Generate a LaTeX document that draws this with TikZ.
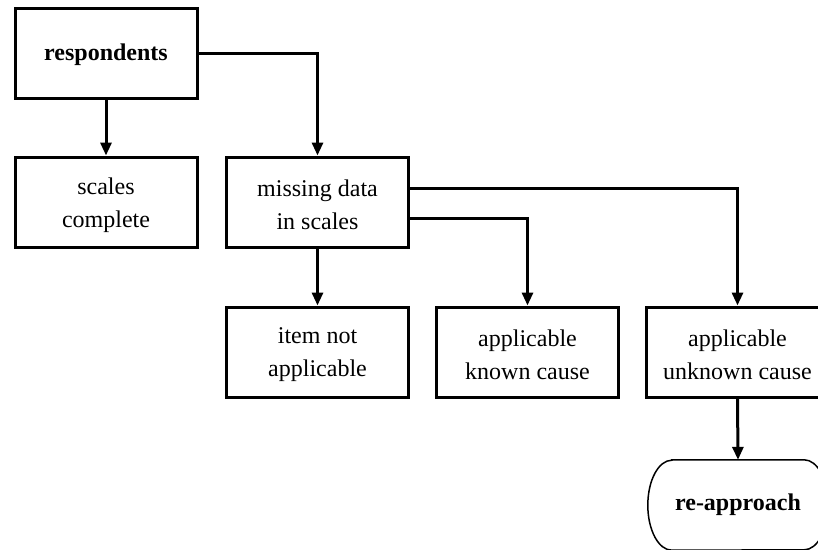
\documentclass[tikz,border=0pt]{standalone}
\usepackage{fontspec}
\setmainfont{Liberation Serif}
\usetikzlibrary{arrows.meta}
\begin{document}
\begin{tikzpicture}[x=1pt,y=1pt,
  box/.style={draw,line width=3pt,minimum width=182pt,minimum height=90pt,inner sep=0pt},
  plainbox/.style={minimum width=180pt,minimum height=90pt,inner sep=0pt,align=center,font=\fontsize{24}{34}\selectfont\bfseries},
  txt/.style={inner sep=0pt,align=center,font=\fontsize{24}{33}\selectfont},
  arr/.style={line width=3pt,-{Triangle[length=13pt,width=11pt]}},
  outline/.style={draw,line width=1.5pt}]
\useasboundingbox (0,0) rectangle (818,-549);
\node[box] (resp) at (106,-53) {};
\node[txt,font=\fontsize{24}{33}\selectfont\bfseries] (respT) at ([yshift=-2pt]resp.center) {respondents};
\node[box] (scal) at (106,-202) {};
\node[txt] (scalT) at ([yshift=-3pt]scal.center) {scales\\complete};
\node[box] (miss) at (317.5,-202) {};
\node[txt] (missT) at ([yshift=-3pt]miss.center) {missing data\\in scales};
\node[box] (item) at (317.5,-352) {};
\node[txt] (itemT) at ([yshift=-3pt]item.center) {item not\\applicable};
\node[box] (known) at (527.5,-352) {};
\node[txt] (knownT) at ([yshift=-3pt]known.center) {applicable\\known cause};
\node[box] (unk) at (737.5,-352) {};
\node[txt] (unkT) at ([yshift=-3pt]unk.center) {applicable\\unknown cause};
\node[plainbox] (rea) at (738,-505) {re-approach};
\draw[outline] ([xshift=24pt]rea.north west) -- ([xshift=-24pt]rea.north east)
  arc[start angle=90,end angle=-90,x radius=24pt,y radius=45pt]
  -- ([xshift=24pt]rea.south west)
  arc[start angle=270,end angle=90,x radius=24pt,y radius=45pt] -- cycle;
\draw[arr] (resp.south) -- (scal.north);
\draw[arr] (resp.east) -| (miss.north);
\draw[arr] (miss.south) -- (item.north);
\draw[arr] ([yshift=-16pt]miss.east) -| (known.north);
\draw[arr] ([yshift=14pt]miss.east) -| (unk.north);
\draw[arr] (unk.south) -- (rea.north);
\end{tikzpicture}
\end{document}
